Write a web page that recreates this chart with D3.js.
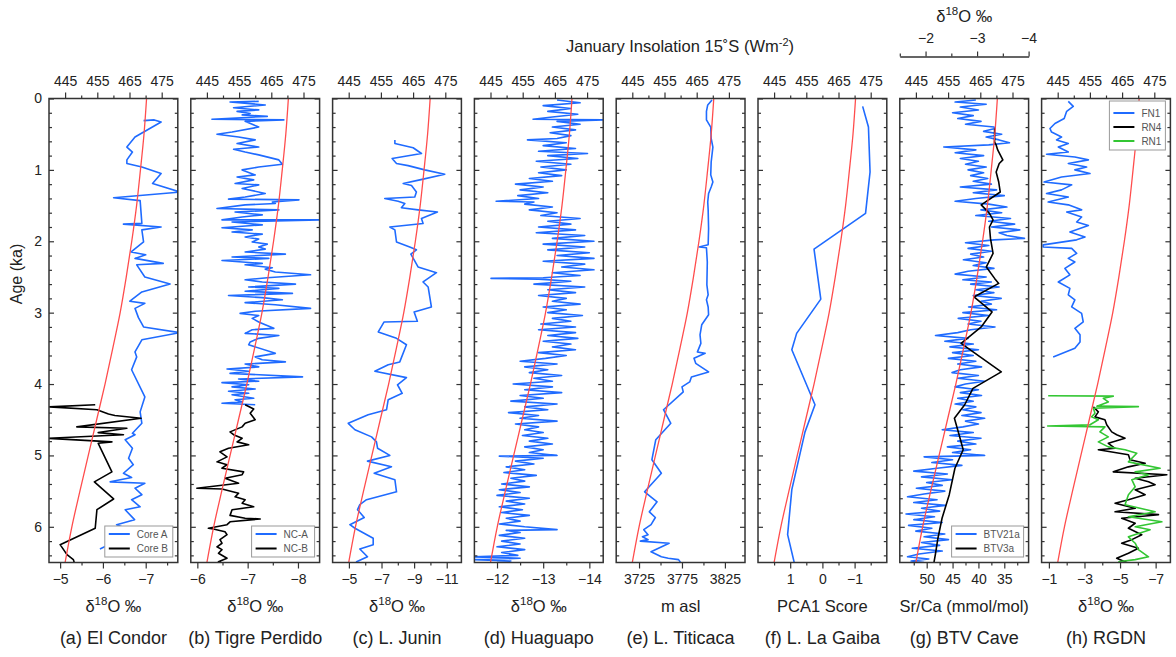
<!DOCTYPE html>
<html>
<head>
<meta charset="utf-8">
<script src="https://cdn.jsdelivr.net/npm/d3@7"></script>
<style>
body { margin: 0; background: #fff; }
svg { font-family: "Liberation Sans", Arial, sans-serif; }
</style>
</head>
<body>
<div id="chart"></div>
<script>
// January insolation 15S (W/m2) against age (ka)
var insolAge = [0, 0.5, 1, 1.5, 2, 2.5, 3, 3.5, 4, 4.5, 5, 5.5, 6, 6.5];
var insolJan = [470.3, 469.5, 468.4, 467.2, 465.7, 464.0, 462.1, 459.8, 457.4, 454.8, 452.2, 449.6, 447.1, 445.0];
var insolTicks = [445, 455, 465, 475];
var insolMinor = [450, 460, 470];

// proxy records, [age ka, value]
var condorCoreA = [[0.31,-6.95],[0.30,-7.2],[0.33,-7.36],[0.54,-6.75],[0.68,-6.56],[0.75,-6.69],[0.86,-6.56],[0.91,-6.56],[0.96,-6.91],[1.05,-7.36],[1.19,-7.16],[1.31,-7.8],[1.39,-6.25],[1.43,-6.87],[1.75,-6.91],[1.76,-6.48],[1.80,-7.36],[1.84,-6.91],[2.01,-6.95],[2.15,-6.66],[2.19,-7.0],[2.24,-6.75],[2.31,-7.41],[2.33,-6.79],[2.50,-6.98],[2.60,-7.57],[2.71,-6.91],[2.84,-6.63],[2.87,-6.98],[2.94,-6.75],[3.07,-6.83],[3.20,-6.95],[3.28,-7.8],[3.38,-6.91],[3.55,-6.75],[3.62,-6.79],[3.80,-6.67],[4.18,-6.98],[4.39,-6.87],[4.55,-6.91],[4.69,-6.69],[4.71,-6.75],[4.78,-6.52],[4.90,-6.69],[5.04,-6.6],[5.13,-6.71],[5.25,-6.48],[5.31,-6.67],[5.37,-6.17],[5.39,-6.98],[5.46,-6.75],[5.55,-6.91],[5.62,-6.67],[5.72,-6.87],[5.76,-6.52],[5.90,-6.74],[5.97,-6.32],[6.04,-6.63],[6.16,-6.17],[6.23,-6.21],[6.31,-5.93]];
var condorCoreB = [[4.29,-5.82],[4.32,-4.75],[4.36,-5.86],[4.42,-6.13],[4.44,-6.28],[4.48,-6.89],[4.60,-5.39],[4.62,-6.56],[4.68,-5.89],[4.71,-6.48],[4.76,-4.7],[4.81,-6.21],[4.83,-5.89],[5.23,-6.21],[5.37,-5.8],[5.61,-6.25],[5.76,-5.86],[6.02,-5.82],[6.25,-5.0],[6.39,-5.16],[6.46,-5.31],[6.5,-5.33]];

var tigreNCA = [[0.04,-7.22],[0.05,-6.65],[0.09,-7.35],[0.13,-6.72],[0.16,-7.22],[0.18,-6.79],[0.21,-7.05],[0.23,-6.89],[0.25,-7.39],[0.29,-6.29],[0.30,-7.72],[0.32,-6.95],[0.40,-7.22],[0.47,-6.69],[0.50,-6.39],[0.54,-6.82],[0.58,-7.15],[0.63,-6.79],[0.68,-7.22],[0.71,-6.72],[0.75,-6.95],[0.79,-7.22],[0.86,-7.62],[0.92,-7.69],[0.96,-7.22],[1.00,-6.89],[1.07,-7.15],[1.10,-6.79],[1.14,-7.12],[1.19,-6.75],[1.21,-7.22],[1.26,-6.89],[1.33,-7.35],[1.38,-6.95],[1.41,-6.62],[1.42,-8.02],[1.45,-7.49],[1.47,-7.55],[1.49,-6.95],[1.54,-6.39],[1.56,-7.62],[1.59,-6.75],[1.63,-7.29],[1.66,-6.89],[1.70,-6.49],[1.70,-8.6],[1.73,-6.69],[1.77,-7.29],[1.81,-6.49],[1.84,-7.09],[1.87,-6.69],[1.90,-7.29],[1.94,-6.95],[1.97,-7.22],[2.01,-7.09],[2.04,-7.39],[2.08,-7.22],[2.11,-7.35],[2.15,-6.95],[2.18,-7.75],[2.22,-6.69],[2.24,-7.42],[2.27,-6.49],[2.31,-7.29],[2.33,-6.95],[2.37,-7.49],[2.39,-7.35],[2.43,-7.55],[2.47,-8.25],[2.51,-7.39],[2.54,-6.95],[2.57,-7.29],[2.60,-7.95],[2.64,-7.02],[2.66,-7.62],[2.70,-6.95],[2.73,-7.89],[2.76,-6.62],[2.79,-7.29],[2.82,-7.69],[2.86,-6.95],[2.89,-7.55],[2.94,-8.25],[2.98,-7.15],[3.01,-6.85],[3.04,-7.22],[3.08,-7.09],[3.13,-7.22],[3.17,-7.35],[3.22,-7.52],[3.24,-7.09],[3.29,-6.95],[3.32,-7.62],[3.36,-7.22],[3.41,-7.05],[3.45,-7.02],[3.57,-7.55],[3.62,-7.15],[3.66,-7.29],[3.69,-7.75],[3.72,-6.95],[3.76,-7.22],[3.79,-6.59],[3.82,-7.02],[3.85,-6.65],[3.90,-8.09],[3.93,-6.82],[3.96,-7.22],[3.98,-6.49],[4.01,-7.02],[4.04,-6.69],[4.07,-7.15],[4.10,-6.62],[4.13,-7.02],[4.15,-6.69],[4.20,-7.12],[4.22,-6.75],[4.25,-6.89],[4.27,-6.49],[4.29,-7.15]];
var tigreNCB = [[4.29,-6.95],[4.35,-7.12],[4.41,-7.05],[4.50,-7.15],[4.55,-6.95],[4.60,-6.89],[4.67,-6.65],[4.71,-6.72],[4.76,-6.89],[4.81,-6.79],[4.85,-7.02],[4.90,-6.62],[4.95,-6.45],[5.02,-6.59],[5.09,-6.39],[5.13,-6.59],[5.18,-6.49],[5.23,-6.92],[5.27,-6.89],[5.32,-6.55],[5.39,-6.82],[5.46,-5.99],[5.47,-6.49],[5.53,-6.82],[5.58,-6.75],[5.62,-6.95],[5.67,-6.89],[5.72,-7.12],[5.76,-6.69],[5.84,-6.65],[5.88,-6.95],[5.89,-7.25],[5.93,-6.65],[5.97,-6.59],[6.02,-6.22],[6.03,-6.32],[6.07,-6.55],[6.11,-6.59],[6.18,-6.45],[6.23,-6.49],[6.28,-6.39],[6.32,-6.49],[6.37,-6.42],[6.44,-6.59],[6.49,-6.42],[6.53,-6.59]];

var juninD18O = [[0.58,-7.82],[0.63,-7.82],[0.69,-8.94],[0.77,-9.45],[0.84,-7.65],[0.91,-7.92],[0.94,-8.63],[1.00,-9.65],[1.06,-10.88],[1.14,-9.35],[1.19,-8.33],[1.22,-8.84],[1.31,-9.14],[1.38,-9.04],[1.40,-7.2],[1.44,-8.02],[1.47,-8.43],[1.53,-8.22],[1.56,-9.24],[1.59,-10.43],[1.68,-9.45],[1.75,-9.55],[1.80,-7.51],[1.84,-7.82],[2.01,-7.92],[2.08,-8.73],[2.12,-9.14],[2.18,-8.8],[2.26,-9.0],[2.36,-9.24],[2.44,-10.37],[2.57,-9.55],[2.64,-9.86],[2.92,-10.06],[2.99,-9.0],[3.12,-9.2],[3.13,-7.16],[3.27,-6.8],[3.36,-7.92],[3.45,-8.53],[3.69,-8.12],[3.73,-7.41],[3.82,-6.59],[3.91,-8.53],[4.01,-7.98],[4.13,-8.27],[4.22,-7.41],[4.36,-7.31],[4.43,-6.18],[4.55,-4.96],[4.64,-5.37],[4.74,-6.39],[4.81,-6.69],[4.90,-6.76],[5.00,-7.51],[5.08,-6.14],[5.16,-7.61],[5.25,-6.55],[5.34,-7.82],[5.51,-7.92],[5.62,-6.08],[5.69,-5.67],[5.76,-5.53],[5.87,-5.94],[5.97,-5.06],[6.02,-5.37],[6.16,-6.49],[6.25,-6.49],[6.31,-5.67],[6.42,-6.14],[6.49,-5.47],[6.52,-5.4]];

var huaguapoD18O = [[0.02,-13.3],[0.06,-13.8],[0.10,-13.0],[0.14,-13.6],[0.18,-13.1],[0.22,-13.75],[0.26,-13.2],[0.29,-12.78],[0.30,-14.3],[0.32,-13.3],[0.36,-13.8],[0.40,-13.2],[0.44,-13.7],[0.48,-13.15],[0.52,-13.6],[0.56,-13.3],[0.58,-12.66],[0.62,-13.5],[0.66,-13.0],[0.70,-13.7],[0.74,-12.9],[0.77,-13.96],[0.80,-13.1],[0.84,-13.75],[0.88,-12.85],[0.92,-13.6],[0.96,-12.95],[1.00,-13.5],[1.04,-12.9],[1.08,-13.4],[1.12,-12.7],[1.16,-13.2],[1.20,-12.4],[1.24,-13.0],[1.28,-12.5],[1.32,-13.1],[1.36,-12.45],[1.40,-12.9],[1.44,-11.98],[1.45,-12.8],[1.48,-12.6],[1.52,-13.2],[1.56,-12.7],[1.60,-13.3],[1.64,-12.95],[1.68,-13.8],[1.72,-13.1],[1.76,-13.6],[1.80,-12.9],[1.84,-13.7],[1.88,-12.85],[1.92,-13.9],[1.96,-13.2],[2.00,-14.1],[2.04,-13.0],[2.08,-13.9],[2.12,-13.1],[2.16,-14.0],[2.20,-13.3],[2.24,-14.1],[2.28,-13.0],[2.32,-13.9],[2.36,-13.4],[2.40,-14.1],[2.44,-13.2],[2.48,-13.8],[2.51,-13.0],[2.52,-11.87],[2.53,-12.9],[2.56,-13.6],[2.60,-12.8],[2.64,-13.9],[2.68,-13.1],[2.72,-13.7],[2.76,-12.9],[2.80,-13.5],[2.84,-13.2],[2.88,-13.8],[2.92,-13.0],[2.96,-13.5],[3.00,-13.1],[3.04,-13.85],[3.08,-13.2],[3.12,-13.6],[3.16,-12.95],[3.20,-13.7],[3.24,-12.9],[3.28,-13.7],[3.32,-13.1],[3.36,-13.75],[3.40,-13.0],[3.44,-13.6],[3.48,-13.2],[3.52,-13.7],[3.56,-12.9],[3.60,-13.5],[3.64,-13.05],[3.68,-12.5],[3.72,-13.3],[3.76,-12.6],[3.80,-13.1],[3.84,-12.7],[3.88,-13.4],[3.92,-12.8],[3.96,-13.2],[4.00,-12.35],[4.04,-13.2],[4.08,-12.6],[4.12,-13.4],[4.16,-12.5],[4.20,-13.0],[4.24,-12.3],[4.28,-13.3],[4.32,-12.6],[4.36,-13.1],[4.40,-12.25],[4.44,-12.9],[4.48,-12.5],[4.52,-13.3],[4.56,-12.4],[4.60,-12.9],[4.64,-12.6],[4.68,-13.0],[4.72,-12.55],[4.76,-13.1],[4.80,-12.7],[4.84,-13.2],[4.88,-12.6],[4.92,-13.0],[4.96,-12.7],[5.00,-13.3],[5.01,-12.05],[5.04,-13.0],[5.08,-12.4],[5.12,-12.8],[5.16,-12.2],[5.20,-12.6],[5.24,-12.15],[5.28,-12.85],[5.32,-12.3],[5.36,-12.6],[5.40,-12.1],[5.44,-12.7],[5.48,-12.05],[5.52,-12.5],[5.56,-12.0],[5.60,-12.7],[5.64,-12.2],[5.68,-12.6],[5.72,-12.05],[5.76,-12.55],[5.80,-12.1],[5.84,-12.7],[5.88,-12.2],[5.92,-12.5],[5.96,-12.05],[6.00,-12.6],[6.04,-13.3],[6.05,-12.2],[6.08,-12.5],[6.12,-12.05],[6.16,-12.6],[6.20,-12.1],[6.24,-12.5],[6.28,-12.0],[6.32,-12.6],[6.36,-12.1],[6.40,-12.45],[6.42,-11.45],[6.44,-12.5],[6.46,-11.5],[6.48,-12.3],[6.50,-12.0]];

var titicacaLevel = [[0.02,3810],[0.09,3805],[0.18,3803.5],[0.30,3803.5],[0.40,3808.5],[0.56,3809],[0.68,3811],[0.89,3809],[1.07,3808.5],[1.17,3811],[1.24,3809],[1.33,3806],[1.45,3805],[1.56,3805.5],[1.82,3806],[2.05,3805.5],[2.08,3795],[2.09,3803.5],[2.29,3804.5],[2.61,3804],[2.75,3805.5],[2.82,3803.5],[2.92,3805.5],[3.03,3806],[3.17,3798],[3.31,3796],[3.43,3797],[3.55,3793],[3.57,3802],[3.64,3789],[3.71,3791],[3.83,3806],[3.90,3786],[3.97,3784],[4.04,3775],[4.11,3776.5],[4.36,3753.5],[4.55,3762],[4.78,3744.5],[5.06,3740],[5.25,3751],[5.51,3731.5],[5.65,3746],[5.79,3737],[5.87,3744],[5.97,3739],[6.04,3730.5],[6.11,3735.5],[6.14,3729],[6.18,3735.5],[6.20,3726.5],[6.23,3760],[6.35,3739],[6.42,3751],[6.44,3759],[6.46,3771],[6.51,3774]];

var gaibaPCA1 = [[0.11,-1.25],[0.40,-1.43],[1.03,-1.48],[1.61,-1.34],[2.11,0.26],[2.81,0.05],[3.29,0.8],[3.52,0.95],[4.29,0.23],[4.67,0.54],[5.48,0.95],[6.11,1.08],[6.51,0.87]];

var btv21aSrCa = [[0.02,40.5],[0.05,44.5],[0.08,38.5],[0.12,43.5],[0.16,40.0],[0.20,45.0],[0.24,41.0],[0.28,44.0],[0.32,39.5],[0.36,42.5],[0.40,37.0],[0.42,36.8],[0.46,39.0],[0.50,35.5],[0.54,38.5],[0.58,36.0],[0.62,34.0],[0.65,38.0],[0.68,46.7],[0.72,40.5],[0.76,44.5],[0.80,39.0],[0.84,43.5],[0.88,40.0],[0.92,42.5],[0.96,38.5],[1.00,42.0],[1.04,39.0],[1.08,41.5],[1.12,38.2],[1.16,41.0],[1.20,37.5],[1.24,43.5],[1.28,36.5],[1.32,41.0],[1.36,35.0],[1.40,40.5],[1.44,44.5],[1.48,38.0],[1.52,34.5],[1.56,39.5],[1.60,35.5],[1.64,40.5],[1.68,33.8],[1.72,38.0],[1.76,33.0],[1.80,37.5],[1.84,32.0],[1.88,36.0],[1.92,34.5],[1.96,31.1],[1.98,37.0],[2.02,42.5],[2.06,38.0],[2.10,42.0],[2.14,37.5],[2.18,41.5],[2.22,39.0],[2.26,42.9],[2.30,38.5],[2.34,41.0],[2.38,37.0],[2.42,42.0],[2.46,44.5],[2.50,38.5],[2.54,43.0],[2.57,37.5],[2.60,41.5],[2.64,36.0],[2.68,40.5],[2.72,37.0],[2.76,41.0],[2.80,35.6],[2.84,39.5],[2.88,37.5],[2.92,41.9],[2.96,36.5],[3.00,43.0],[3.04,38.0],[3.08,43.9],[3.12,39.5],[3.16,42.0],[3.20,36.8],[3.24,41.5],[3.28,44.0],[3.32,48.3],[3.36,42.0],[3.40,46.5],[3.44,41.0],[3.48,45.5],[3.52,40.0],[3.56,45.0],[3.60,41.0],[3.64,45.8],[3.68,40.5],[3.72,44.0],[3.76,39.4],[3.80,43.5],[3.84,45.1],[3.88,40.0],[3.92,44.0],[3.96,38.8],[4.00,42.5],[4.04,44.5],[4.08,40.0],[4.12,43.5],[4.16,39.4],[4.20,44.0],[4.24,41.0],[4.28,44.5],[4.32,40.5],[4.36,43.0],[4.40,39.5],[4.44,43.2],[4.48,38.8],[4.52,42.5],[4.56,40.0],[4.60,43.0],[4.64,47.0],[4.68,41.0],[4.72,45.5],[4.76,39.5],[4.80,44.0],[4.84,40.5],[4.88,46.0],[4.92,41.5],[4.96,45.0],[5.00,38.8],[5.02,50.5],[5.06,45.0],[5.10,49.0],[5.14,43.2],[5.18,48.0],[5.22,52.5],[5.26,46.0],[5.30,51.0],[5.34,45.1],[5.38,50.0],[5.42,47.0],[5.46,52.0],[5.50,46.5],[5.54,50.5],[5.58,53.7],[5.62,48.0],[5.66,52.5],[5.70,46.4],[5.74,51.0],[5.78,47.5],[5.82,54.0],[5.86,48.5],[5.90,52.5],[5.94,47.0],[5.98,53.5],[6.02,49.0],[6.06,52.1],[6.10,46.5],[6.14,50.5],[6.18,45.8],[6.22,51.0],[6.26,47.5],[6.30,52.8],[6.34,47.0],[6.38,51.5],[6.42,53.7],[6.45,49.6],[6.48,53.0],[6.50,50.5]];
var btv3aD18O = [[0.42,-3.34],[0.61,-3.34],[0.65,-3.37],[0.72,-3.4],[0.86,-3.5],[0.91,-3.43],[1.03,-3.37],[1.17,-3.42],[1.31,-3.45],[1.49,-3.08],[1.61,-3.24],[1.70,-3.31],[1.80,-3.24],[1.96,-3.26],[2.17,-3.31],[2.36,-3.18],[2.52,-3.34],[2.59,-3.42],[2.78,-2.94],[2.99,-3.29],[3.20,-3.08],[3.43,-2.69],[3.83,-3.47],[4.06,-2.92],[4.29,-2.76],[4.48,-2.56],[4.76,-2.67],[4.92,-2.73],[5.18,-2.57],[5.55,-2.46],[5.88,-2.32],[6.16,-2.24],[6.39,-2.19],[6.51,-2.16]];

var rgdnFN1 = [[0.04,-2.09],[0.11,-2.37],[0.18,-2.0],[0.28,-1.86],[0.35,-1.34],[0.42,-1.06],[0.47,-1.15],[0.54,-1.71],[0.58,-1.43],[0.63,-2.09],[0.68,-1.53],[0.75,-2.09],[0.78,-0.87],[0.82,-2.46],[0.86,-3.22],[0.91,-2.09],[0.96,-3.12],[1.00,-2.46],[1.05,-3.31],[1.10,-1.71],[1.17,-0.73],[1.21,-2.28],[1.28,-1.71],[1.33,-0.87],[1.38,-2.09],[1.45,-0.96],[1.49,-2.09],[1.56,-2.84],[1.59,-2.0],[1.66,-2.84],[1.73,-2.56],[1.78,-3.22],[1.87,-2.18],[1.94,-3.03],[1.98,-2.56],[2.05,-0.68],[2.08,-0.68],[2.10,-2.28],[2.17,-2.56],[2.24,-2.09],[2.29,-2.46],[2.38,-1.9],[2.47,-2.18],[2.57,-1.53],[2.66,-2.18],[2.75,-2.09],[2.82,-2.46],[2.92,-2.28],[3.01,-2.84],[3.13,-2.93],[3.22,-2.46],[3.31,-2.75],[3.41,-2.75],[3.50,-2.46],[3.62,-1.24]];
var rgdnRN4 = [[4.32,-3.5],[4.39,-3.78],[4.46,-3.59],[4.50,-4.15],[4.57,-4.25],[4.67,-4.53],[4.71,-4.81],[4.76,-5.28],[4.83,-4.34],[4.90,-4.72],[4.92,-3.78],[4.99,-5.47],[5.06,-5.56],[5.11,-6.41],[5.16,-5.47],[5.23,-4.62],[5.27,-7.63],[5.32,-5.85],[5.37,-6.6],[5.41,-6.97],[5.48,-5.85],[5.55,-6.41],[5.62,-5.47],[5.67,-4.72],[5.74,-5.85],[5.79,-4.72],[5.83,-7.16],[5.88,-5.09],[5.95,-5.85],[6.02,-5.47],[6.11,-6.22],[6.18,-5.66],[6.23,-5.09],[6.30,-6.03],[6.37,-5.47],[6.44,-4.81],[6.51,-5.47]];
var rgdnRN1 = [[4.165,-0.96],[4.17,-4.62],[4.20,-4.06],[4.25,-4.34],[4.31,-3.7],[4.317,-6.03],[4.34,-3.5],[4.41,-3.59],[4.46,-3.4],[4.50,-3.78],[4.57,-3.31],[4.587,-0.93],[4.60,-4.15],[4.67,-3.87],[4.74,-4.34],[4.81,-3.78],[4.88,-4.34],[4.92,-5.28],[4.97,-5.94],[5.09,-5.47],[5.18,-7.25],[5.23,-5.85],[5.27,-6.6],[5.34,-5.66],[5.44,-5.85],[5.55,-5.47],[5.69,-5.28],[5.79,-6.97],[5.86,-5.47],[5.93,-7.35],[6.00,-5.85],[6.04,-6.69],[6.14,-5.47],[6.23,-5.85],[6.32,-6.03],[6.42,-6.6],[6.46,-5.85],[6.49,-4.9]];

var ageMajor = [0, 1, 2, 3, 4, 5, 6];

var blue = "#1f6bff", red = "#ff4d4d", green = "#33c633", black = "#000";

var panels = [
  {title: "(a) El Condor", xlab: "d18O", domain: [-4.74, -7.75], major: [-5, -6, -7], minor: [-5.5, -6.5, -7.5],
   series: [{d: condorCoreA, c: blue, n: "Core A"}, {d: condorCoreB, c: black, n: "Core B"}], legend: {w: 68}},
  {title: "(b) Tigre Perdido", xlab: "d18O", domain: [-5.87, -8.43], major: [-6, -7, -8], minor: [-6.5, -7.5],
   series: [{d: tigreNCA, c: blue, n: "NC-A"}, {d: tigreNCB, c: black, n: "NC-B"}], legend: {w: 63}},
  {title: "(c) L. Junin", xlab: "d18O", domain: [-4.0, -11.9], major: [-5, -7, -9, -11], minor: [-6, -8, -10],
   series: [{d: juninD18O, c: blue}]},
  {title: "(d) Huaguapo", xlab: "d18O", domain: [-11.51, -14.3], major: [-12, -13, -14], minor: [-12.5, -13.5],
   series: [{d: huaguapoD18O, c: blue}]},
  {title: "(e) L. Titicaca", xlab: "m asl", domain: [3698.4, 3848.4], major: [3725, 3775, 3825], minor: [3750, 3800],
   series: [{d: titicacaLevel, c: blue}]},
  {title: "(f) L. La Gaiba", xlab: "PCA1 Score", domain: [2, -2], major: [1, 0, -1], minor: [1.5, 0.5, -0.5, -1.5],
   series: [{d: gaibaPCA1, c: blue}]},
  {title: "(g) BTV Cave", xlab: "Sr/Ca (mmol/mol)", domain: [55.2, 30.3], major: [50, 45, 40, 35], minor: [52.5, 47.5, 42.5, 37.5, 32.5],
   series: [{d: btv21aSrCa, c: blue, n: "BTV21a"}, {d: btv3aD18O, c: black, n: "BTV3a", top: true}], legend: {w: 72}},
  {title: "(h) RGDN", xlab: "d18O", domain: [-0.59, -7.83], major: [-1, -3, -5, -7], minor: [-2, -4, -6],
   series: [{d: rgdnFN1, c: blue, n: "FN1"}, {d: rgdnRN4, c: black, n: "RN4"}, {d: rgdnRN1, c: green, n: "RN1"}], legend: {w: 56, top: true}}
];

var W = 1176, H = 657;
var yTop = 98.5, yBot = 562.5, pw = 128.8, step = 141.8, left0 = 49;

var svg = d3.select("#chart").append("svg")
  .attr("width", W)
  .attr("height", H);

var yScale = d3.scaleLinear().domain([0, 6.5]).range([yTop, yBot]);
var xIns = d3.scaleLinear().domain([440, 480]).range([0, pw]);
var insol = insolAge.map(function (a, i) { return [a, insolJan[i]]; });

function fmt(d) { return d < 0 ? "\u2212" + Math.abs(d) : String(d); }

function styleAxis(g, keepDomain) {
  g.attr("font-family", null).attr("font-size", null);
  if (!keepDomain) g.select(".domain").remove();
  g.selectAll("line").attr("stroke", "#333").attr("stroke-width", 1.2);
  g.selectAll("text").attr("font-size", 14).attr("fill", "#222");
}

function addDelta(sel, x, y, size) {
  var t = sel.append("text").attr("x", x).attr("y", y)
    .attr("text-anchor", "middle").attr("font-size", size).attr("fill", "#222");
  t.append("tspan").text("\u03b4");
  t.append("tspan").attr("font-size", size * 0.7).attr("dy", -size * 0.4).text("18");
  t.append("tspan").attr("dy", size * 0.4).text("O \u2030");
  return t;
}

var defs = svg.append("defs");

panels.forEach(function (p, i) {
  var x0 = left0 + i * step;
  var g = svg.append("g").attr("transform", "translate(" + x0 + ",0)");
  var xs = d3.scaleLinear().domain(p.domain).range([0, pw]);
  var xTopO = d3.scaleLinear().domain([-1.5, -4]).range([0, pw]);

  defs.append("clipPath").attr("id", "clip" + i)
    .append("rect").attr("x", 0).attr("y", yTop).attr("width", pw).attr("height", yBot - yTop);

  var plot = g.append("g").attr("clip-path", "url(#clip" + i + ")");

  p.series.forEach(function (s) {
    var sx = s.top ? xTopO : xs;
    plot.append("path")
      .datum(s.d)
      .attr("fill", "none")
      .attr("stroke", s.c)
      .attr("stroke-width", 1.6)
      .attr("stroke-linejoin", "round")
      .attr("d", d3.line().x(function (d) { return sx(d[1]); }).y(function (d) { return yScale(d[0]); }));
  });

  plot.append("path")
    .datum(insol)
    .attr("fill", "none")
    .attr("stroke", red)
    .attr("stroke-width", 1.3)
    .attr("d", d3.line().curve(d3.curveMonotoneY)
      .x(function (d) { return xIns(d[1]); }).y(function (d) { return yScale(d[0]); }));

  // ticks: top insolation, bottom proxy, inner age ticks both sides
  g.append("g").attr("transform", "translate(0," + yTop + ")")
    .call(d3.axisTop(xIns).tickValues(insolTicks).tickSize(6).tickPadding(7).tickFormat(d3.format("d")))
    .call(styleAxis);
  g.append("g").attr("transform", "translate(0," + yTop + ")")
    .call(d3.axisTop(xIns).tickValues(insolMinor).tickSize(3).tickFormat(""))
    .call(styleAxis);
  g.append("g").attr("transform", "translate(0," + yBot + ")")
    .call(d3.axisBottom(xs).tickValues(p.major).tickSize(6).tickPadding(6).tickFormat(fmt))
    .call(styleAxis);
  g.append("g").attr("transform", "translate(0," + yBot + ")")
    .call(d3.axisBottom(xs).tickValues(p.minor).tickSize(3).tickFormat(""))
    .call(styleAxis);

  var ageMinor = d3.range(0, 6.5, 0.2).filter(function (a) { return Math.abs(a - Math.round(a)) > 0.01; });
  g.append("g")
    .call(d3.axisLeft(yScale).tickValues(ageMajor).tickSizeInner(-5).tickSizeOuter(0).tickPadding(7)
      .tickFormat(i === 0 ? d3.format("d") : ""))
    .call(styleAxis);
  g.append("g")
    .call(d3.axisLeft(yScale).tickValues(ageMinor).tickSizeInner(-3).tickSizeOuter(0).tickFormat(""))
    .call(styleAxis);
  g.append("g").attr("transform", "translate(" + pw + ",0)")
    .call(d3.axisRight(yScale).tickValues(ageMajor).tickSizeInner(-5).tickSizeOuter(0).tickFormat(""))
    .call(styleAxis);
  g.append("g").attr("transform", "translate(" + pw + ",0)")
    .call(d3.axisRight(yScale).tickValues(ageMinor).tickSizeInner(-3).tickSizeOuter(0).tickFormat(""))
    .call(styleAxis);

  g.append("rect")
    .attr("x", 0).attr("y", yTop)
    .attr("width", pw).attr("height", yBot - yTop)
    .attr("fill", "none").attr("stroke", "#333").attr("stroke-width", 1.5);

  if (p.xlab === "d18O") {
    addDelta(g, pw / 2, 612, 16.5);
  } else {
    g.append("text").attr("x", pw / 2).attr("y", 612)
      .attr("text-anchor", "middle").attr("font-size", 16.5).attr("fill", "#222")
      .text(p.xlab);
  }

  g.append("text").attr("x", pw / 2).attr("y", 644)
    .attr("text-anchor", "middle").attr("font-size", 18).attr("fill", "#222")
    .text(p.title);

  if (p.legend) {
    var n = p.series.length;
    var lh = n === 3 ? 49 : 31;
    var lx = pw - 5 - p.legend.w;
    var ly = p.legend.top ? yTop + 2.5 : yBot - 5.5 - lh;
    var lg = g.append("g").attr("transform", "translate(" + lx + "," + ly + ")");
    lg.append("rect").attr("width", p.legend.w).attr("height", lh)
      .attr("fill", "#fff").attr("stroke", "#999").attr("stroke-width", 1);
    p.series.forEach(function (s, k) {
      var yy = (n === 3 ? 12 : 8) + k * (n === 3 ? 14 : 14.5);
      lg.append("line").attr("x1", 4).attr("x2", 25).attr("y1", yy).attr("y2", yy)
        .attr("stroke", s.c).attr("stroke-width", 2);
      lg.append("text").attr("x", 32).attr("y", yy + 3.6)
        .attr("font-size", 10).attr("fill", "#555").text(s.n);
    });
  }

  if (i === 6) {
    g.append("g").attr("transform", "translate(0,56.5)")
      .call(d3.axisTop(xTopO).tickValues([-2, -3, -4]).tickSize(5).tickSizeOuter(0).tickPadding(9).tickFormat(fmt))
      .call(styleAxis, true);
    g.append("g").attr("transform", "translate(0,56.5)")
      .call(d3.axisTop(xTopO).tickValues([-1.5, -2.5, -3.5]).tickSize(3).tickSizeOuter(0).tickFormat(""))
      .call(styleAxis, true);
    g.selectAll(".domain").attr("stroke", "#333").attr("stroke-width", 1.2);
    addDelta(g, xTopO(-2.75), 22, 16.5);
  }
});

svg.append("text")
  .attr("transform", "translate(22,274) rotate(-90)")
  .attr("text-anchor", "middle").attr("font-size", 16).attr("fill", "#222")
  .text("Age (ka)");

var title = svg.append("text")
  .attr("x", 680).attr("y", 52)
  .attr("text-anchor", "middle").attr("font-size", 16.5).attr("fill", "#222");
title.append("tspan").text("January Insolation 15\u02daS (Wm");
title.append("tspan").attr("font-size", 11).attr("dy", -6).text("-2");
title.append("tspan").attr("dy", 6).text(")");
</script>
</body>
</html>
